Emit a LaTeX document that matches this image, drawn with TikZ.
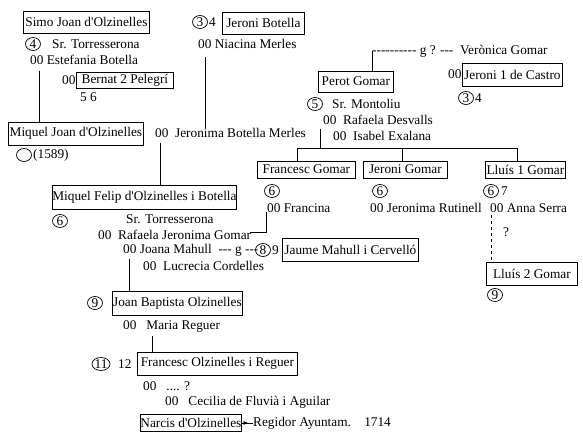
\documentclass[tikz,border=0pt]{standalone}
\usepackage{fontspec}
\setmainfont{Liberation Serif}
\usetikzlibrary{shapes.geometric,arrows.meta,decorations.markings}
\newcommand{\trc}{\mbox{-}\mbox{-}\mbox{-}}
\newcommand{\ap}{\textquotesingle}
\begin{document}
\begin{tikzpicture}[x=1pt,y=-1pt,font=\fontsize{13.3}{15}\selectfont,
  person/.style={draw,line width=0.8pt,inner sep=0pt,anchor=west},
  gen/.style={draw,ellipse,line width=0.7pt,minimum width=15pt,minimum height=13pt,inner sep=0pt},
  txt/.style={inner sep=0pt,anchor=west},
  link/.style={line width=0.8pt}]
\useasboundingbox (0,0) rectangle (583,443);
% Olzinelles (linia esquerra)
\node[person,minimum width=126pt,minimum height=22pt] (simo) at (23,22) {Simo Joan d\ap Olzinelles};
\node[gen] (g4a) at (33,44) {4};
\node[txt] (torres1) at (52,44) {Sr. Torresserona};
\node[txt] (estefania) at (30,60) {00 Estefania Botella};
\node[txt] (m00a) at (62,80) {00};
\node[person,minimum width=97pt,minimum height=16pt] (bernat) at (76,80) {Bernat 2 Pelegrí};
\node[txt] (g56) at (80,97) {5 6};
\node[person,minimum width=135pt,minimum height=23pt] (miqueljoan) at (8,133.5) {Miquel Joan d\ap Olzinelles};
\node[gen] (gbuit) at (24,155) {};
\node[txt] (any1589) at (33,155) {(1589)};
% Botella
\node[gen] (g3a) at (200,22) {3};
\node[txt] (g4b) at (209,22) {4};
\node[person,minimum width=82pt,minimum height=22pt] (jeronibot) at (222,23) {Jeroni Botella};
\node[txt] (niacina) at (198,44) {00 Niacina Merles};
\node[txt] (jeronima) at (155,133) {00\ \ Jeronima Botella Merles};
% Miquel Felip i descendencia
\node[person,minimum width=184pt,minimum height=24pt] (miquelfelip) at (52,197) {Miquel Felip d\ap Olzinelles i Botella};
\node[gen] (g6a) at (60,221) {6};
\node[txt] (torres2) at (126,219) {Sr. Torresserona};
\node[txt] (rafaelaj) at (98,235) {00\ \ Rafaela Jeronima Gomar};
\node[txt] (joana) at (123,250) {00 Joana Mahull\ \ \trc\ g \trc};
\node[gen] (g8) at (263,250) {8};
\node[txt] (g9a) at (272,250) {9};
\node[person,minimum width=136pt,minimum height=23pt] (jaume) at (282,249.5) {Jaume Mahull i Cervelló};
\node[txt] (lucrecia) at (143,266) {00\ \ Lucrecia Cordelles};
\node[gen] (g9b) at (95,303) {9};
\node[person,minimum width=130pt,minimum height=24pt] (joanbap) at (112,303) {Joan Baptista Olzinelles};
\node[txt] (maria) at (123,327) {00\ \ \ Maria Reguer};
\node[gen] (g11) at (101,364) {11};
\node[txt] (g12) at (118,364) {12};
\node[person,minimum width=160pt,minimum height=23pt] (francesc) at (137,363.5) {Francesc Olzinelles i Reguer};
\node[txt] (interrog) at (143,386) {00\ \ \ .... ?};
\node[txt] (cecilia) at (165,402) {00\ \ \ Cecilia de Fluvià i Aguilar};
\node[person,minimum width=98pt,minimum height=17pt] (narcis) at (140,423) {Narcis d\ap Olzinelles};
\node[txt] (regidor) at (253,423) {Regidor Ayuntam.\ \ \ \ 1714};
% Gomar
\node[txt] (gline) at (372,51) {\trc\trc\trc\mbox{-}\ g ? \trc\ \ Verònica Gomar};
\node[person,minimum width=75pt,minimum height=21pt] (perot) at (318,81.5) {Perot Gomar};
\node[txt] (m00b) at (448,74) {00};
\node[person,minimum width=100pt,minimum height=23pt] (castro) at (462,74.5) {Jeroni 1 de Castro};
\node[gen] (g3b) at (466,98) {3};
\node[txt] (g4c) at (475,98) {4};
\node[gen] (g5) at (315,104) {5};
\node[txt] (montoliu) at (332,104) {Sr. Montoliu};
\node[txt] (desvalls) at (323,120) {00\ \ Rafaela Desvalls};
\node[txt] (exalana) at (333,136) {00\ \ Isabel Exalana};
\node[person,minimum width=98pt,minimum height=17pt] (fgomar) at (257,169.5) {Francesc Gomar};
\node[person,minimum width=84pt,minimum height=17pt] (jgomar) at (363,169.5) {Jeroni Gomar};
\node[person,minimum width=80pt,minimum height=17pt] (lluis1) at (485,169.5) {Lluís 1 Gomar};
\node[gen] (g6b) at (272,191) {6};
\node[gen] (g6c) at (380,191) {6};
\node[gen] (g6d) at (491,191) {6};
\node[txt] (g7) at (501,191) {7};
\node[txt] (francina) at (267,208) {00 Francina};
\node[txt] (rutinell) at (370,208) {00 Jeronima Rutinell};
\node[txt] (anna) at (490,208) {00 Anna Serra};
\node[txt] (dubte) at (503,232) {?};
\node[person,minimum width=91pt,minimum height=23pt] (lluis2) at (486,273.5) {Lluís 2 Gomar};
\node[gen] (g9c) at (495,295) {9};
% Punts de les linies
\coordinate (e1) at (39,71);
\coordinate (n1) at (205,57);
\coordinate (j1) at (160,143);
\coordinate (p1) at (372,71);
\coordinate (t0) at (320,129);
\coordinate (bl) at (297,148);
\coordinate (bm) at (402,148);
\coordinate (br) at (517,148);
\coordinate (f1) at (266,212);
\coordinate (f2) at (250,232);
\coordinate (jm) at (129,259);
\coordinate (mr) at (152,336);
\coordinate (a1) at (491,215);
% Linies
\draw[link] (e1) -- (e1 |- miqueljoan.north);
\draw[link] (n1) -- (n1 |- jeronima.north);
\draw[link] (j1) -- (j1 |- miquelfelip.north);
\draw[link] (p1 |- perot.north) -- (p1 |- gline.west);
\draw[link] (t0) -- (t0 |- bl);
\draw[link] (bl |- fgomar.north) -- (bl) -- (br) -- (br |- lluis1.north);
\draw[link] (bm) -- (bm |- jgomar.north);
\draw[link] (f1) |- (f2);
\draw[link] (jm) -- (jm |- joanbap.north);
\draw[link] (mr) -- (mr |- francesc.north);
\draw[link,dashed] (a1) -- (a1 |- lluis2.north);
\draw[link,postaction={decorate},decoration={markings,mark=at position 0.6 with {\arrow{Latex[length=5pt,width=4pt]}}}] (narcis.east) -- (regidor.west);
\end{tikzpicture}
\end{document}
